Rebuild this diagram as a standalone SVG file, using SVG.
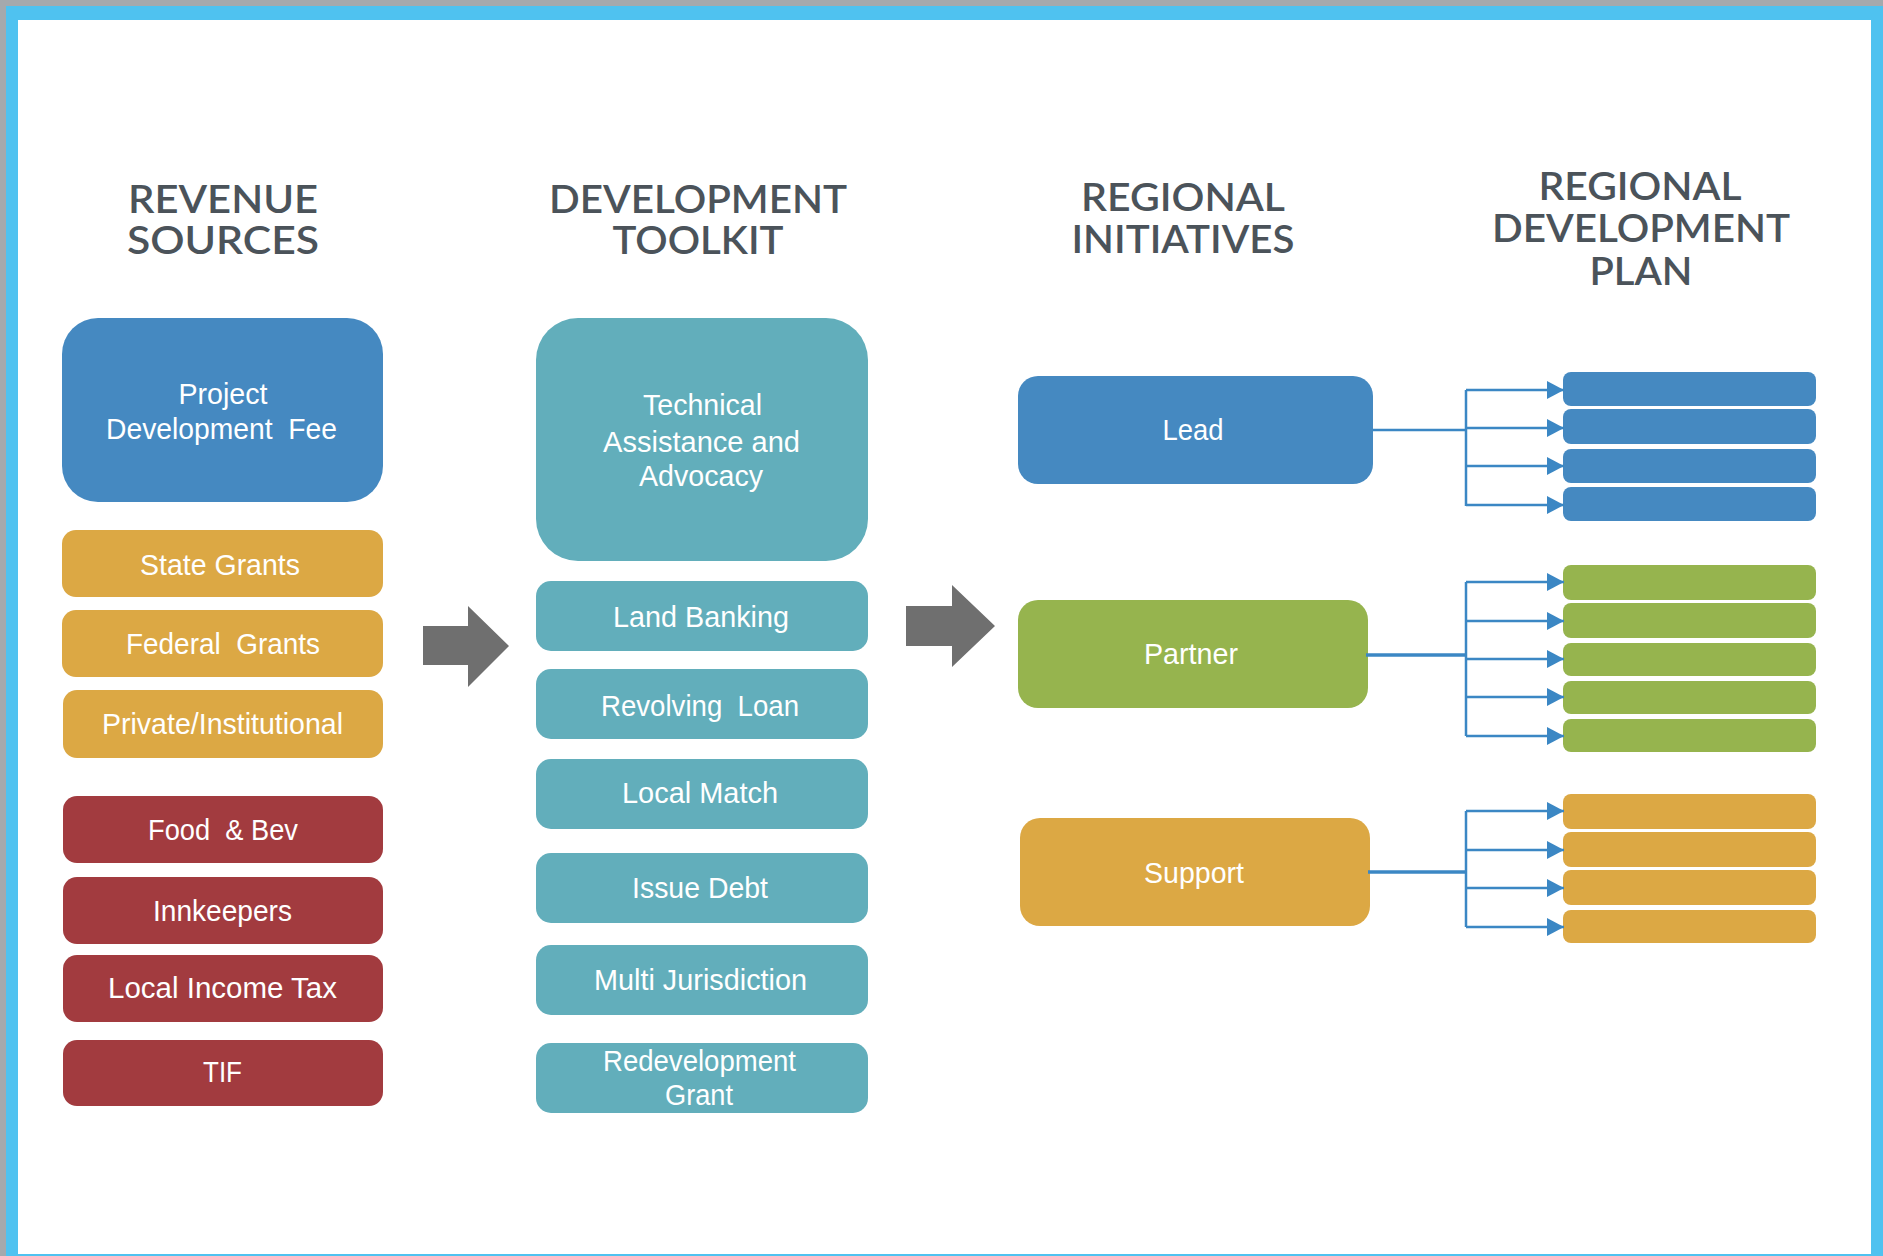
<svg xmlns="http://www.w3.org/2000/svg" width="1883" height="1256" viewBox="0 0 1883 1256">
  <style>
    .hdr { font-family: Lato, "Liberation Sans", sans-serif; font-weight: 600; font-size: 39px; fill: #4b535a; text-anchor: middle; }
    .lbl { font-family: "Liberation Sans", Arial, sans-serif; font-size: 29px; fill: #ffffff; text-anchor: middle; white-space: pre; }
    .blue { fill: #4589c1; }
    .teal { fill: #62aebb; }
    .gold { fill: #dca844; }
    .red { fill: #a23b3f; }
    .green { fill: #96b44e; }
    .bigarrow { fill: #6f6f6f; }
    .link { fill: none; stroke: #3b87c4; stroke-width: 2.5; }
    .link-main { fill: none; stroke: #3b87c4; stroke-width: 3.5; }
    .branch { fill: none; stroke: #3b87c4; stroke-width: 2.5; marker-end: url(#tip); }
  </style>
  <defs>
    <marker id="tip" markerUnits="userSpaceOnUse" markerWidth="17" markerHeight="18" refX="17" refY="9" orient="auto">
      <path d="M0,0 L17,9 L0,18 Z" fill="#3b87c4"/>
    </marker>
  </defs>

  <!-- page frame -->
  <rect x="0" y="0" width="1883" height="1256" fill="#a5a9ad"/>
  <rect x="6" y="6" width="1877" height="1250" fill="#4fc2f0"/>
  <rect x="18" y="20" width="1853" height="1234" fill="#ffffff"/>

  <!-- column headings -->
  <g id="heading-revenue">
    <text class="hdr" x="223" y="213" textLength="190" lengthAdjust="spacingAndGlyphs">REVENUE</text>
    <text class="hdr" x="223" y="254" textLength="192" lengthAdjust="spacingAndGlyphs">SOURCES</text>
  </g>
  <g id="heading-toolkit">
    <text class="hdr" x="698" y="213" textLength="298" lengthAdjust="spacingAndGlyphs">DEVELOPMENT</text>
    <text class="hdr" x="698" y="254" textLength="171" lengthAdjust="spacingAndGlyphs">TOOLKIT</text>
  </g>
  <g id="heading-initiatives">
    <text class="hdr" x="1183" y="211" textLength="204" lengthAdjust="spacingAndGlyphs">REGIONAL</text>
    <text class="hdr" x="1183" y="253" textLength="223" lengthAdjust="spacingAndGlyphs">INITIATIVES</text>
  </g>
  <g id="heading-plan">
    <text class="hdr" x="1640" y="200" textLength="203" lengthAdjust="spacingAndGlyphs">REGIONAL</text>
    <text class="hdr" x="1641" y="242" textLength="298" lengthAdjust="spacingAndGlyphs">DEVELOPMENT</text>
    <text class="hdr" x="1641" y="285" textLength="103" lengthAdjust="spacingAndGlyphs">PLAN</text>
  </g>

  <!-- revenue sources -->
  <g id="project-development-fee">
    <rect class="blue" x="62" y="318" width="321" height="184" rx="36"/>
    <text class="lbl" x="223" y="404" textLength="89" lengthAdjust="spacingAndGlyphs">Project</text>
    <text class="lbl" x="221.5" y="439" textLength="231" lengthAdjust="spacingAndGlyphs">Development  Fee</text>
  </g>
  <g id="state-grants">
    <rect class="gold" x="62" y="530" width="321" height="67" rx="14"/>
    <text class="lbl" x="220" y="575" textLength="160" lengthAdjust="spacingAndGlyphs">State Grants</text>
  </g>
  <g id="federal-grants">
    <rect class="gold" x="62" y="610" width="321" height="67" rx="14"/>
    <text class="lbl" x="223" y="654" textLength="194" lengthAdjust="spacingAndGlyphs">Federal  Grants</text>
  </g>
  <g id="private-institutional">
    <rect class="gold" x="63" y="690" width="320" height="68" rx="14"/>
    <text class="lbl" x="222.5" y="734" textLength="241" lengthAdjust="spacingAndGlyphs">Private/Institutional</text>
  </g>
  <g id="food-bev">
    <rect class="red" x="63" y="796" width="320" height="67" rx="14"/>
    <text class="lbl" x="223" y="840" textLength="150" lengthAdjust="spacingAndGlyphs">Food  &amp; Bev</text>
  </g>
  <g id="innkeepers">
    <rect class="red" x="63" y="877" width="320" height="67" rx="14"/>
    <text class="lbl" x="222.5" y="920.5" textLength="139" lengthAdjust="spacingAndGlyphs">Innkeepers</text>
  </g>
  <g id="local-income-tax">
    <rect class="red" x="63" y="955" width="320" height="67" rx="14"/>
    <text class="lbl" x="222.5" y="998" textLength="229" lengthAdjust="spacingAndGlyphs">Local Income Tax</text>
  </g>
  <g id="tif">
    <rect class="red" x="63" y="1040" width="320" height="66" rx="14"/>
    <text class="lbl" x="222.5" y="1082" textLength="39" lengthAdjust="spacingAndGlyphs">TIF</text>
  </g>

  <!-- development toolkit -->
  <g id="technical-assistance">
    <rect class="teal" x="536" y="318" width="332" height="243" rx="42"/>
    <text class="lbl" x="702.5" y="415" textLength="119" lengthAdjust="spacingAndGlyphs">Technical</text>
    <text class="lbl" x="701.5" y="452" textLength="197" lengthAdjust="spacingAndGlyphs">Assistance and</text>
    <text class="lbl" x="701" y="486" textLength="124" lengthAdjust="spacingAndGlyphs">Advocacy</text>
  </g>
  <g id="land-banking">
    <rect class="teal" x="536" y="581" width="332" height="70" rx="15"/>
    <text class="lbl" x="701" y="627" textLength="176" lengthAdjust="spacingAndGlyphs">Land Banking</text>
  </g>
  <g id="revolving-loan">
    <rect class="teal" x="536" y="669" width="332" height="70" rx="15"/>
    <text class="lbl" x="700" y="716" textLength="198" lengthAdjust="spacingAndGlyphs">Revolving  Loan</text>
  </g>
  <g id="local-match">
    <rect class="teal" x="536" y="759" width="332" height="70" rx="15"/>
    <text class="lbl" x="700" y="803" textLength="156" lengthAdjust="spacingAndGlyphs">Local Match</text>
  </g>
  <g id="issue-debt">
    <rect class="teal" x="536" y="853" width="332" height="70" rx="15"/>
    <text class="lbl" x="700" y="898" textLength="136" lengthAdjust="spacingAndGlyphs">Issue Debt</text>
  </g>
  <g id="multi-jurisdiction">
    <rect class="teal" x="536" y="945" width="332" height="70" rx="15"/>
    <text class="lbl" x="700.5" y="990" textLength="213" lengthAdjust="spacingAndGlyphs">Multi Jurisdiction</text>
  </g>
  <g id="redevelopment-grant">
    <rect class="teal" x="536" y="1043" width="332" height="70" rx="15"/>
    <text class="lbl" x="699.5" y="1071" textLength="193" lengthAdjust="spacingAndGlyphs">Redevelopment</text>
    <text class="lbl" x="699" y="1105" textLength="68" lengthAdjust="spacingAndGlyphs">Grant</text>
  </g>

  <!-- flow arrows between columns -->
  <g id="flow-arrows">
    <path class="bigarrow" d="M423,626 H468 V606 L509,646 L468,687 V665 H423 Z"/>
    <path class="bigarrow" d="M906,606 H952 V585 L995,626 L952,667 V646 H906 Z"/>
  </g>

  <!-- regional initiatives -->
  <g id="lead">
    <rect class="blue" x="1018" y="376" width="355" height="108" rx="20"/>
    <text class="lbl" x="1193" y="439.5" textLength="61" lengthAdjust="spacingAndGlyphs">Lead</text>
  </g>
  <g id="partner">
    <rect class="green" x="1018" y="600" width="350" height="108" rx="20"/>
    <text class="lbl" x="1191" y="664" textLength="94" lengthAdjust="spacingAndGlyphs">Partner</text>
  </g>
  <g id="support">
    <rect class="gold" x="1020" y="818" width="350" height="108" rx="20"/>
    <text class="lbl" x="1194" y="883" textLength="100" lengthAdjust="spacingAndGlyphs">Support</text>
  </g>

  <!-- regional development plan items -->
  <g id="plan-lead">
    <rect class="blue" x="1563" y="372" width="253" height="34" rx="8"/>
    <rect class="blue" x="1563" y="409" width="253" height="35" rx="8"/>
    <rect class="blue" x="1563" y="449" width="253" height="34" rx="8"/>
    <rect class="blue" x="1563" y="487" width="253" height="34" rx="8"/>
  </g>
  <g id="plan-partner">
    <rect class="green" x="1563" y="565" width="253" height="35" rx="8"/>
    <rect class="green" x="1563" y="603" width="253" height="35" rx="8"/>
    <rect class="green" x="1563" y="643" width="253" height="33" rx="8"/>
    <rect class="green" x="1563" y="681" width="253" height="33" rx="8"/>
    <rect class="green" x="1563" y="719" width="253" height="33" rx="8"/>
  </g>
  <g id="plan-support">
    <rect class="gold" x="1563" y="794" width="253" height="35" rx="8"/>
    <rect class="gold" x="1563" y="832" width="253" height="35" rx="8"/>
    <rect class="gold" x="1563" y="870" width="253" height="35" rx="8"/>
    <rect class="gold" x="1563" y="910" width="253" height="33" rx="8"/>
  </g>

  <!-- connectors from initiatives to plan items -->
  <g id="connectors">
    <path class="link" d="M1373,430 H1466"/>
    <path class="link" d="M1466,390 V506"/>
    <path class="branch" d="M1466,390 H1564"/>
    <path class="branch" d="M1466,428 H1564"/>
    <path class="branch" d="M1466,466 H1564"/>
    <path class="branch" d="M1466,505 H1564"/>

    <path class="link-main" d="M1366,655 H1466"/>
    <path class="link" d="M1466,582 V736"/>
    <path class="branch" d="M1466,582 H1564"/>
    <path class="branch" d="M1466,621 H1564"/>
    <path class="branch" d="M1466,659 H1564"/>
    <path class="branch" d="M1466,697 H1564"/>
    <path class="branch" d="M1466,736 H1564"/>

    <path class="link-main" d="M1368,872 H1466"/>
    <path class="link" d="M1466,811 V927"/>
    <path class="branch" d="M1466,811 H1564"/>
    <path class="branch" d="M1466,850 H1564"/>
    <path class="branch" d="M1466,888 H1564"/>
    <path class="branch" d="M1466,927 H1564"/>
  </g>
</svg>
